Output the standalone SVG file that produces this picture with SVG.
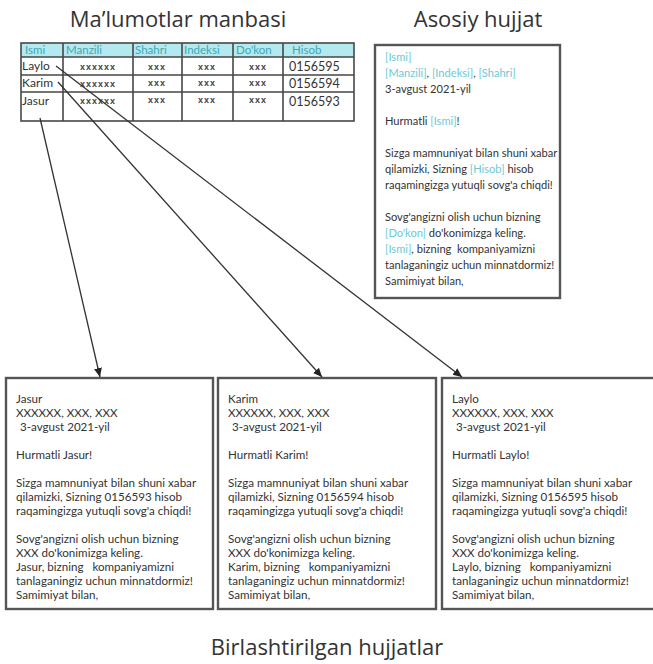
<svg xmlns="http://www.w3.org/2000/svg" width="653" height="664" viewBox="0 0 653 664">
  <style>
    .title { font-family: "Open Sans", "Liberation Sans", sans-serif; font-size: 22px; fill: #333; }
    .t { font-family: Lato, "Liberation Sans", sans-serif; font-size: 11.1px; fill: #333; }
    .tb { font-family: Lato, "Liberation Sans", sans-serif; font-size: 11.6px; fill: #333; }
    .ph { fill: #6cc9d2; }
    .hd { font-family: Lato, "Liberation Sans", sans-serif; font-size: 11.5px; fill: #3fa7b3; }
    .cell { font-family: Lato, "Liberation Sans", sans-serif; font-size: 12px; fill: #333; }
    .xs { font-family: "Liberation Sans", sans-serif; font-size: 9px; fill: #444; font-weight: bold; letter-spacing: 1px; }
    .num { font-family: Lato, "Liberation Sans", sans-serif; font-size: 12.5px; fill: #333; }
    .box { fill: #fff; stroke: #555; stroke-width: 2.4; }
    .grid { fill: none; stroke: #474747; stroke-width: 1.6; }
    .conn { stroke: #333; stroke-width: 1.3; fill: none; }
  </style>
  <defs>
    <marker id="arrow" markerWidth="10" markerHeight="10" refX="9" refY="5" orient="auto" markerUnits="userSpaceOnUse">
      <path d="M0,1 L9,5 L0,9 Z" fill="#222"/>
    </marker>
  </defs>

  <rect width="653" height="664" fill="#fff"/>

  <!-- headings -->
  <text class="title" x="178" y="27" text-anchor="middle">Ma’lumotlar manbasi</text>
  <text class="title" x="478" y="27" text-anchor="middle">Asosiy hujjat</text>
  <text class="title" x="327" y="655" text-anchor="middle">Birlashtirilgan hujjatlar</text>

  <!-- data source table -->
  <g id="data-source">
    <rect x="21" y="43" width="333" height="14" fill="#b4e9ef"/>
    <rect class="grid" x="21" y="43" width="333" height="78"/>
    <path class="grid" d="M21,57 H354 M21,75 H354 M21,92 H354 M63,43 V121 M133,43 V121 M182,43 V121 M233,43 V121 M283,43 V121"/>
    <text class="hd" x="25" y="54">Ismi</text>
    <text class="hd" x="66" y="54">Manzili</text>
    <text class="hd" x="135" y="54">Shahri</text>
    <text class="hd" x="184" y="54">Indeksi</text>
    <text class="hd" x="236" y="54">Do'kon</text>
    <text class="hd" x="292" y="54">Hisob</text>

    <text class="cell" x="22" y="70">Laylo</text>
    <text class="xs" x="98" y="70" text-anchor="middle">xxxxxx</text>
    <text class="xs" x="157" y="70" text-anchor="middle">xxx</text>
    <text class="xs" x="207" y="70" text-anchor="middle">xxx</text>
    <text class="xs" x="258" y="70" text-anchor="middle">xxx</text>
    <text class="num" x="289" y="71">0156595</text>

    <text class="cell" x="22" y="87">Karim</text>
    <text class="xs" x="98" y="87" text-anchor="middle">xxxxxx</text>
    <text class="xs" x="157" y="86" text-anchor="middle">xxx</text>
    <text class="xs" x="207" y="86" text-anchor="middle">xxx</text>
    <text class="xs" x="258" y="86" text-anchor="middle">xxx</text>
    <text class="num" x="289" y="88">0156594</text>

    <text class="cell" x="22" y="105">Jasur</text>
    <text class="xs" x="98" y="104" text-anchor="middle">xxxxxx</text>
    <text class="xs" x="157" y="103" text-anchor="middle">xxx</text>
    <text class="xs" x="207" y="103" text-anchor="middle">xxx</text>
    <text class="xs" x="258" y="103" text-anchor="middle">xxx</text>
    <text class="num" x="289" y="106">0156593</text>
  </g>

  <!-- main template document -->
  <g id="template">
    <rect class="box" x="375" y="45" width="185" height="253"/>
    <g class="t">
      <text x="385" y="61"><tspan class="ph">[Ismi]</tspan></text>
      <text x="385" y="77"><tspan class="ph">[Manzili]</tspan>, <tspan class="ph">[Indeksi]</tspan>, <tspan class="ph">[Shahri]</tspan></text>
      <text x="385" y="93">3-avgust 2021-yil</text>
      <text x="385" y="125">Hurmatli <tspan class="ph">[Ismi]</tspan>!</text>
      <text x="385" y="157">Sizga mamnuniyat bilan shuni xabar</text>
      <text x="385" y="173">qilamizki, Sizning <tspan class="ph">[Hisob]</tspan> hisob</text>
      <text x="385" y="189">raqamingizga yutuqli sovg'a chiqdi!</text>
      <text x="385" y="221">Sovg'angizni olish uchun bizning</text>
      <text x="385" y="237"><tspan class="ph">[Do'kon]</tspan> do'konimizga keling.</text>
      <text x="385" y="253" xml:space="preserve"><tspan class="ph">[Ismi]</tspan>, bizning  kompaniyamizni</text>
      <text x="385" y="269">tanlaganingiz uchun minnatdormiz!</text>
      <text x="385" y="285">Samimiyat bilan,</text>
    </g>
  </g>

  <!-- merged documents -->
  <g id="doc-jasur">
    <rect class="box" x="6" y="378" width="207" height="231"/>
    <g class="tb">
      <text x="16" y="403">Jasur</text>
      <text x="16" y="417">XXXXXX, XXX, XXX</text>
      <text x="20" y="431">3-avgust 2021-yil</text>
      <text x="16" y="459">Hurmatli Jasur!</text>
      <text x="16" y="487">Sizga mamnuniyat bilan shuni xabar</text>
      <text x="16" y="501">qilamizki, Sizning 0156593 hisob</text>
      <text x="16" y="515">raqamingizga yutuqli sovg'a chiqdi!</text>
      <text x="16" y="543">Sovg'angizni olish uchun bizning</text>
      <text x="16" y="557">XXX do'konimizga keling.</text>
      <text x="16" y="571" xml:space="preserve">Jasur, bizning   kompaniyamizni</text>
      <text x="16" y="585">tanlaganingiz uchun minnatdormiz!</text>
      <text x="16" y="599">Samimiyat bilan,</text>
    </g>
  </g>

  <g id="doc-karim">
    <rect class="box" x="218" y="378" width="218" height="231"/>
    <g class="tb">
      <text x="228" y="403">Karim</text>
      <text x="228" y="417">XXXXXX, XXX, XXX</text>
      <text x="232" y="431">3-avgust 2021-yil</text>
      <text x="228" y="459">Hurmatli Karim!</text>
      <text x="228" y="487">Sizga mamnuniyat bilan shuni xabar</text>
      <text x="228" y="501">qilamizki, Sizning 0156594 hisob</text>
      <text x="228" y="515">raqamingizga yutuqli sovg'a chiqdi!</text>
      <text x="228" y="543">Sovg'angizni olish uchun bizning</text>
      <text x="228" y="557">XXX do'konimizga keling.</text>
      <text x="228" y="571" xml:space="preserve">Karim, bizning   kompaniyamizni</text>
      <text x="228" y="585">tanlaganingiz uchun minnatdormiz!</text>
      <text x="228" y="599">Samimiyat bilan,</text>
    </g>
  </g>

  <g id="doc-laylo">
    <rect class="box" x="442" y="378" width="220" height="231"/>
    <g class="tb">
      <text x="452" y="403">Laylo</text>
      <text x="452" y="417">XXXXXX, XXX, XXX</text>
      <text x="456" y="431">3-avgust 2021-yil</text>
      <text x="452" y="459">Hurmatli Laylo!</text>
      <text x="452" y="487">Sizga mamnuniyat bilan shuni xabar</text>
      <text x="452" y="501">qilamizki, Sizning 0156595 hisob</text>
      <text x="452" y="515">raqamingizga yutuqli sovg'a chiqdi!</text>
      <text x="452" y="543">Sovg'angizni olish uchun bizning</text>
      <text x="452" y="557">XXX do'konimizga keling.</text>
      <text x="452" y="571" xml:space="preserve">Laylo, bizning   kompaniyamizni</text>
      <text x="452" y="585">tanlaganingiz uchun minnatdormiz!</text>
      <text x="452" y="599">Samimiyat bilan,</text>
    </g>
  </g>

  <!-- record-to-document connectors -->
  <g id="connectors">
    <line class="conn" x1="40" y1="118" x2="100" y2="377" marker-end="url(#arrow)"/>
    <line class="conn" x1="58" y1="82" x2="322" y2="377" marker-end="url(#arrow)"/>
    <line class="conn" x1="56" y1="66" x2="462" y2="377" marker-end="url(#arrow)"/>
  </g>
</svg>
